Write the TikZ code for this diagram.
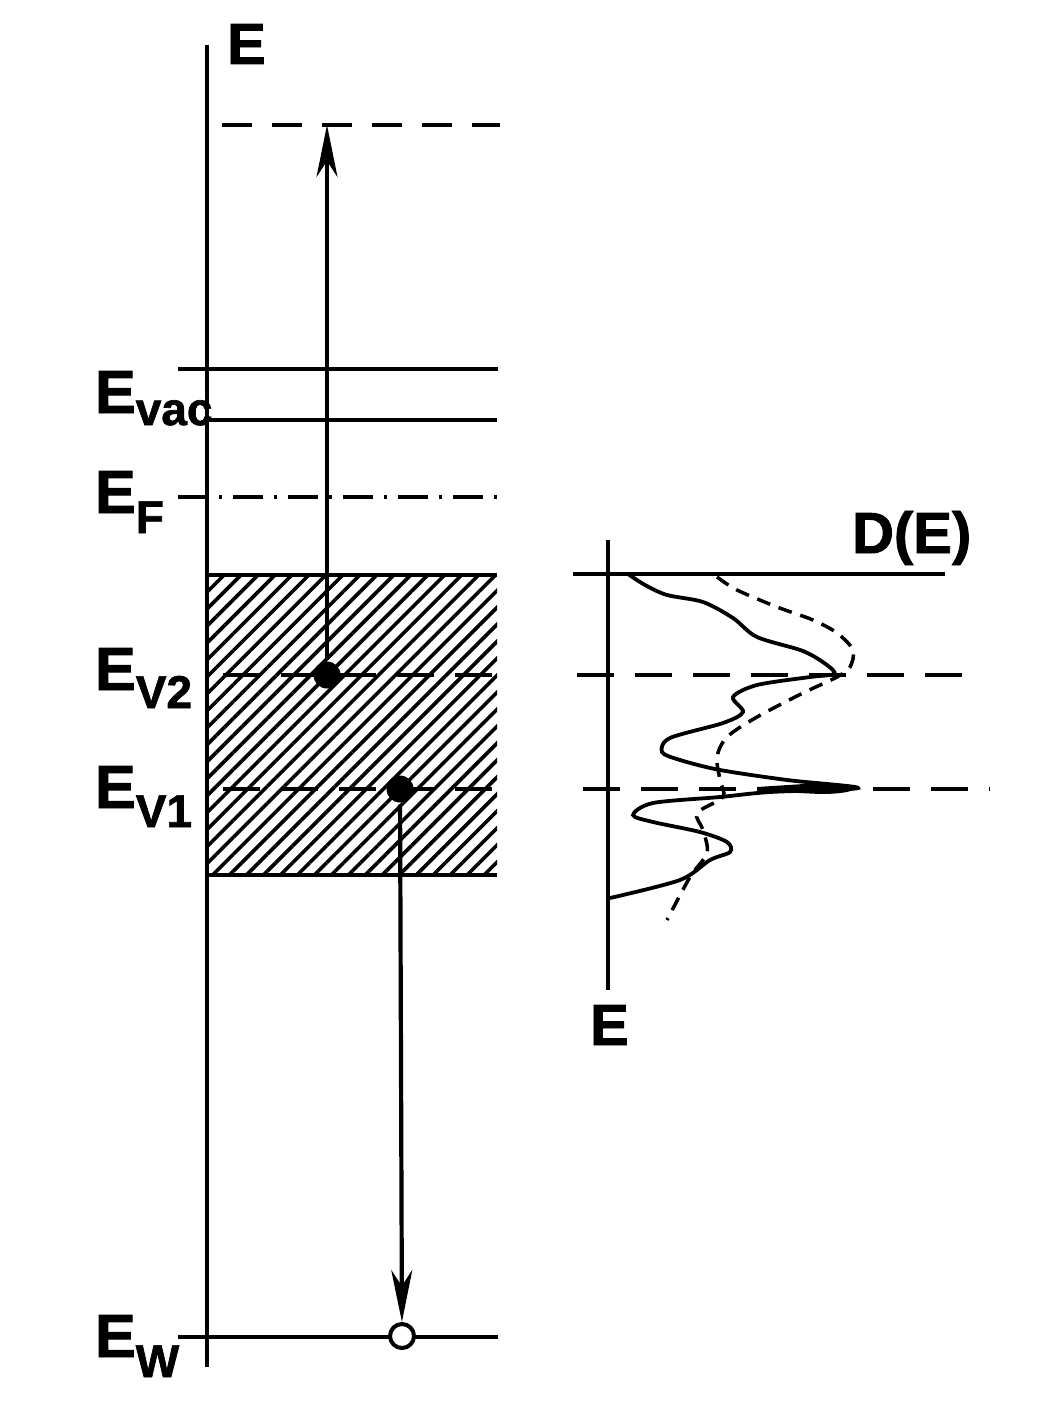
\documentclass[tikz,border=0pt]{standalone}
\usepackage{fontspec}
\setmainfont{Liberation Sans}[BoldFeatures={FakeBold=1.5}]
\usepackage{tikz}
\usetikzlibrary{arrows.meta,patterns.meta}

\tikzset{
  level name/.style={font=\fontsize{61}{61}\selectfont\bfseries, inner sep=0pt, anchor=base west},
  axis name/.style={font=\fontsize{58}{58}\selectfont\bfseries, inner sep=0pt, anchor=base west},
  electron/.style={circle, fill, inner sep=0pt, minimum size=27pt},
  hole/.style={circle, draw, fill=white, line width=4pt, inner sep=0pt, minimum size=24pt},
  top dash/.style={dash pattern=on 30pt off 20pt},
  fermi dash/.style={dash pattern=on 30pt off 11pt on 3pt off 11pt},
  band dash/.style={dash pattern=on 37pt off 21pt},
  dos dash/.style={line width=3.5pt, dash pattern=on 14pt off 9pt}
}
\newcommand{\sublevel}[2]{E\raisebox{-#2pt}{\fontsize{46}{46}\selectfont #1}}

\begin{document}
\begin{tikzpicture}[x=1pt, y=-1pt, line width=4.2pt, >={Stealth[length=52pt, width=21pt, inset=16pt]}]
\useasboundingbox (0,0) rectangle (1038,1410);

% energy axis
\draw (207,45) -- (207,1367);
\node [axis name] (axis-E) at (225,64) {E};

% levels
\draw [top dash] (222,125) -- (500,125);
\draw (178,369) -- (498,369);
\draw (207,420) -- (497,420);
\draw [fermi dash] (178,497) -- (497,497);
\draw (178,1337) -- (498,1337);

% valence band
\fill [pattern={Lines[angle=45, distance=12pt, line width=3.6pt]}] (207,575) rectangle (497,875);
\draw (207,575) -- (497,575) (207,875) -- (497,875);

\foreach \y in {675,789}
  \draw [band dash] (223,\y) -- (497,\y);

\foreach \s/\y/\d in {vac/413/12, F/513/20, V2/690/18, V1/808/19, W/1357/20}
  \node [level name] (name-\s) at (93,\y) {\sublevel{\s}{\d}};

% electrons and hole
\node [electron] (dot-V2) at (327,675) {};
\node [electron] (dot-V1) at (400,789) {};
\node [hole] (hole-W) at (402,1336) {};
\coordinate (top-V2) at (327,125);

\draw [->] (dot-V2) -- (top-V2);
\draw [->] (dot-V1) -- (hole-W);

% density of states
\draw (608,540) -- (608,990);
\draw (573,574) -- (945,574);
\draw [band dash] (577,675) -- (962,675);
\draw [band dash] (583,789) -- (990,789);
\node [axis name] (axis-D) at (850,553) {D(E)};
\node [axis name] (axis-E2) at (588,1045) {E};

\draw [line width=3.8pt] plot [smooth, tension=0.5] coordinates {
  (628,574) (645,585) (667,595) (703,602) (733,618) (757,637) (803,651)
  (827,665) (834,674) (810,677) (757,685) (733,697) (743,712) (723,723)
  (670,738) (662,752) (680,760) (720,770) (787,780) (858,788) (770,792)
  (720,797) (653,803) (633,815) (653,822) (700,832) (727,842) (730,852)
  (710,860) (680,880) (610,898)};
\fill (757,787) -- (820,783) .. controls (865,783) and (865,794) .. (820,794) -- (757,791) -- cycle;

\draw [dos dash] plot [smooth, tension=0.5] coordinates {
  (717,577) (737,590) (777,607) (813,620) (837,633) (853,650) (850,667)
  (837,677) (803,693) (757,717) (727,737) (717,757) (720,780) (723,797)
  (697,813) (703,830) (707,853) (690,877) (667,920)};

\end{tikzpicture}
\end{document}
